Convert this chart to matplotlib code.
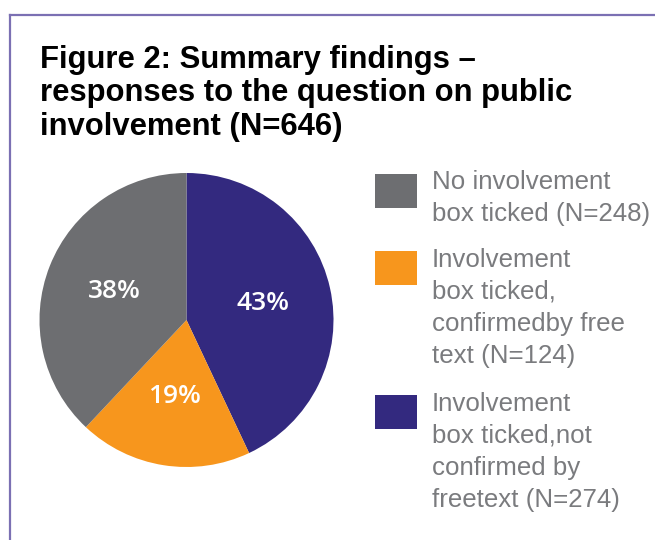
import matplotlib
matplotlib.use("Agg")
import matplotlib.pyplot as plt
from matplotlib.lines import Line2D
from matplotlib.patches import Rectangle

W, H = 655, 540

title_lines = [
    "Figure 2: Summary findings \u2013",
    "responses to the question on public",
    "involvement (N=646)",
]

# slices in drawing order (clockwise from 12 o'clock)
slice_pct = [43, 19, 38]
slice_colors = ["#33297f", "#f7961d", "#6d6e71"]

# legend order (top to bottom)
legend_colors = ["#6d6e71", "#f7961d", "#33297f"]
legend_lines = [
    ["No involvement", "box ticked (N=248)"],
    ["Involvement", "box ticked,", "confirmedby free", "text (N=124)"],
    ["Involvement", "box ticked,not", "confirmed by", "freetext (N=274)"],
]


def fx(x):
    return x / W


def fy(y):
    return 1 - y / H


fig = plt.figure(figsize=(W / 100, H / 100), dpi=100)
fig.patch.set_facecolor("white")

# frame lines top and left
border = "#7b70b3"
fig.add_artist(Line2D([fx(10), fx(655)], [fy(15), fy(15)], color=border, lw=1.6,
                      transform=fig.transFigure))
fig.add_artist(Line2D([fx(10), fx(10)], [fy(15), fy(540)], color=border, lw=1.6,
                      transform=fig.transFigure))

# title
for i, line in enumerate(title_lines):
    fig.text(fx(40), fy(68 + i * 33.5), line, fontsize=22.3, fontweight="bold",
             family="Liberation Sans", color="black", va="baseline", ha="left")

# pie
ax = fig.add_axes([fx(39.5), fy(467), 294 / W, 294 / H])
wedges, texts, autotexts = ax.pie(
    slice_pct,
    colors=slice_colors,
    startangle=90,
    counterclock=False,
    autopct=lambda p: "%.0f%%" % p,
    pctdistance=0.53,
    wedgeprops=dict(linewidth=0),
)
for t in autotexts:
    t.set_color("white")
    t.set_fontsize(19)
    t.set_fontweight("semibold")
    t.set_family("Open Sans")
ax.set_xlim(-1, 1)
ax.set_ylim(-1, 1)
ax.set_aspect("auto")
ax.axis("off")

# legend
box_tops = [174, 251, 395]
first_baselines = [189, 267, 411]
for color, top, base, lines in zip(legend_colors, box_tops, first_baselines, legend_lines):
    fig.add_artist(Rectangle((fx(375), fy(top + 34)), 42 / W, 34 / H,
                             facecolor=color, edgecolor="none",
                             transform=fig.transFigure))
    for j, line in enumerate(lines):
        fig.text(fx(432), fy(base + j * 32), line, fontsize=18.6,
                 family="Liberation Sans", color="#7a7b7e",
                 va="baseline", ha="left")

fig.savefig("out.png", dpi=100, facecolor="white")
